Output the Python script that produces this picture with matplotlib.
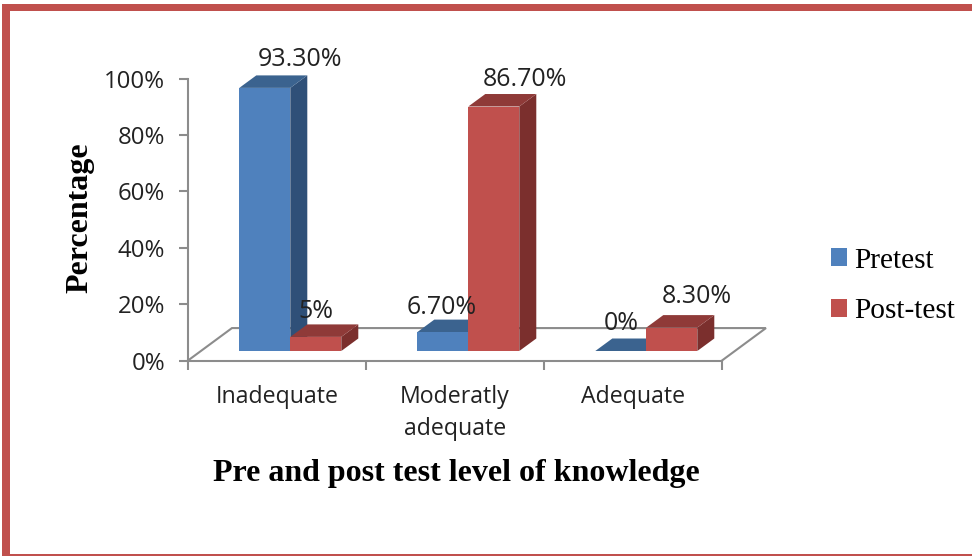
import matplotlib
matplotlib.use("Agg")
import matplotlib.pyplot as plt
from matplotlib.patches import Polygon, Rectangle, Patch

W, H = 972, 556

# Data
categories = ['Inadequate', 'Moderatly\nadequate', 'Adequate']
series_names = ['Pretest', 'Post-test']
pretest = [93.3, 6.7, 0]
posttest = [5, 86.7, 8.3]
pre_labels = ['93.30%', '6.70%', '0%']
post_labels = ['5%', '86.70%', '8.30%']
yticks = [0, 20, 40, 60, 80, 100]

# Colours: front, side, top
blue = ['#4F81BD', '#2F5078', '#3B638F']
red = ['#C0504D', '#7B2F2D', '#8F3A38']
gray = '#8C8C8C'

# 3D look, in data units
bar_w = 0.2865
dx, dy = 0.0955, 4.43
shift_x, shift_y = 0.0747, 3.37
floor_dx, floor_dy = 0.247, 11.5

# Label offsets from the top of each bar front, in pixels
pre_off = [(35.5, 28), (-1, 25), (0, 27)]
post_off = [(0, 25), (31, 27), (25, 31)]

fig = plt.figure(figsize=(W / 100, H / 100), dpi=100)
ax = fig.add_axes([188 / W, 195.5 / H, 534 / W, 282 / H])
ax.set_xlim(0, 3)
ax.set_ylim(0, 100)
ax.patch.set_alpha(0)


def draw_bar(left, value, colors):
    base = shift_y
    right = left + bar_w
    top = base + value
    ax.add_patch(Polygon([(right, base), (right + dx, base + dy), (right + dx, top + dy), (right, top)],
                         fc=colors[1], ec='none', clip_on=False))
    ax.add_patch(Polygon([(left, top), (right, top), (right + dx, top + dy), (left + dx, top + dy)],
                         fc=colors[2], ec='none', clip_on=False))
    ax.add_patch(Rectangle((left, base), bar_w, value, fc=colors[0], ec='none', clip_on=False))


# Floor
ax.plot([0, floor_dx, 3 + floor_dx, 3], [0, floor_dy, floor_dy, 0], color=gray, lw=1.5, clip_on=False,
        solid_joinstyle='miter', zorder=0.5)

labels_to_draw = []
for i in range(len(categories)):
    left = i + 0.5 - bar_w + shift_x
    draw_bar(left, pretest[i], blue)
    draw_bar(left + bar_w, posttest[i], red)
    labels_to_draw.append((left + bar_w / 2, pretest[i], pre_labels[i], pre_off[i]))
    labels_to_draw.append((left + bar_w * 1.5, posttest[i], post_labels[i], post_off[i]))

for x, v, txt, off in labels_to_draw:
    ax.annotate(txt, (x, v + shift_y), xytext=(off[0] * 0.72, off[1] * 0.72), textcoords='offset points',
                ha='center', va='center', fontsize=18, family='Open Sans', color='#222222',
                annotation_clip=False)

# Axes
for s in ['top', 'right']:
    ax.spines[s].set_visible(False)
for s in ['left', 'bottom']:
    ax.spines[s].set_color(gray)
    ax.spines[s].set_linewidth(1.5)
ax.set_yticks(yticks)
ax.set_yticklabels([f'{t}%' for t in yticks], family='Open Sans', fontsize=17.3, color='#222222')
ax.set_xticks([0, 1, 2, 3])
ax.set_xticklabels([])
ax.set_xticks([0.5, 1.5, 2.5], minor=True)
ax.set_xticklabels(categories, minor=True, family='Open Sans', fontsize=16.7, color='#222222', linespacing=1.48)
ax.tick_params(axis='both', which='major', color=gray, width=1.5, length=6.5)
ax.tick_params(axis='y', pad=9.8)
ax.tick_params(axis='x', which='minor', length=0, pad=17.5)

# Axis titles
fig.text(456 / W, 1 - 474 / H, 'Pre and post test level of knowledge', ha='center', va='center',
         family='Liberation Serif', weight='bold', fontsize=23, color='black')
fig.text(80 / W, 1 - 218 / H, 'Percentage', ha='center', va='center', rotation=90,
         family='Liberation Serif', weight='bold', fontsize=23, color='black')

# Legend
handles = [Patch(fc=blue[0], ec='none'), Patch(fc=red[0], ec='none')]
fig.legend(handles, series_names, loc='center left', bbox_to_anchor=(831 / W, 1 - 286 / H), frameon=False,
           prop={'family': 'Liberation Serif', 'size': 21.2}, handlelength=0.54, handleheight=0.54,
           handletextpad=0.25, labelspacing=0.84, borderpad=0, borderaxespad=0)

# Slide frame
frame = '#C0504D'
fig.add_artist(Rectangle((2 / W, 1 - 555 / H), 7.5 / W, 551 / H, transform=fig.transFigure, fc=frame, ec='none'))
fig.add_artist(Rectangle((2 / W, 1 - 11 / H), 970 / W, 7 / H, transform=fig.transFigure, fc=frame, ec='none'))
fig.add_artist(Rectangle((2 / W, 1 - 555.5 / H), 970 / W, 1.5 / H, transform=fig.transFigure, fc=frame, ec='none'))

fig.savefig('out.png', dpi=100)
